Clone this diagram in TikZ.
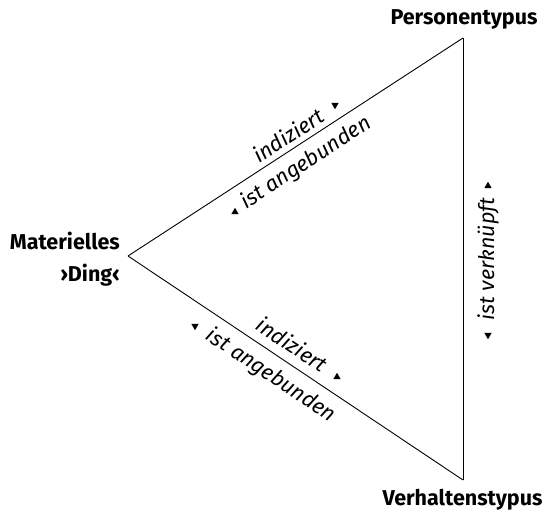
\documentclass[tikz,border=0pt]{standalone}
\usepackage{fontspec}
\setmainfont{Fira Sans}
\usetikzlibrary{shapes.geometric}
\begin{document}
\begin{tikzpicture}[x=1pt,y=-1pt,
  edge/.style={line width=0.9pt, line join=miter},
  vlabel/.style={font=\bfseries\fontsize{21.5}{32}\selectfont, inner sep=0pt},
  elabel/.style={font=\itshape\fontsize{21.5}{26}\selectfont, inner sep=0pt},
  tri/.style={regular polygon, regular polygon sides=3, fill=black, draw=none,
    inner sep=0pt, minimum size=8.5pt},
  tridown/.style={tri, shape border rotate=180}]
\useasboundingbox (0,0) rectangle (547,513);

% corners of the triangle
\coordinate (P) at (463,38);
\coordinate (L) at (128,256);
\coordinate (V) at (463,480);

% corner labels
\node[vlabel, anchor=base] (pers) at (464,25) {Personentypus};
\node[vlabel, anchor=base] (verh) at (462.5,505) {Verhaltenstypus};
\node[vlabel, anchor=base east, align=right] (ding) at (120,282)
  {Materielles\\›Ding‹};

% sides with their relation labels
\draw[edge] (L) -- (P)
  node[elabel, sloped, pos=0.5, above=5pt] (ind1) {indiziert}
  node[elabel, sloped, pos=0.5, below=8pt] (ang1) {ist angebunden};
\draw[edge] (L) -- (V)
  node[elabel, sloped, pos=0.46, above=9pt] (ind2) {indiziert}
  node[elabel, sloped, pos=0.46, below=9pt] (ang2) {ist angebunden};
\draw[edge] (V) -- (P)
  node[elabel, sloped, pos=0.5, below=14pt] (verk) {ist verknüpft};

% direction marks
\node[tridown] (m1) at (335,105) {};
\node[tri]     (m2) at (235,212) {};
\node[tridown] (m3) at (195,326) {};
\node[tri]     (m4) at (337,377) {};
\node[tri]     (m5) at (488,186) {};
\node[tridown] (m6) at (488,335) {};
\end{tikzpicture}
\end{document}
